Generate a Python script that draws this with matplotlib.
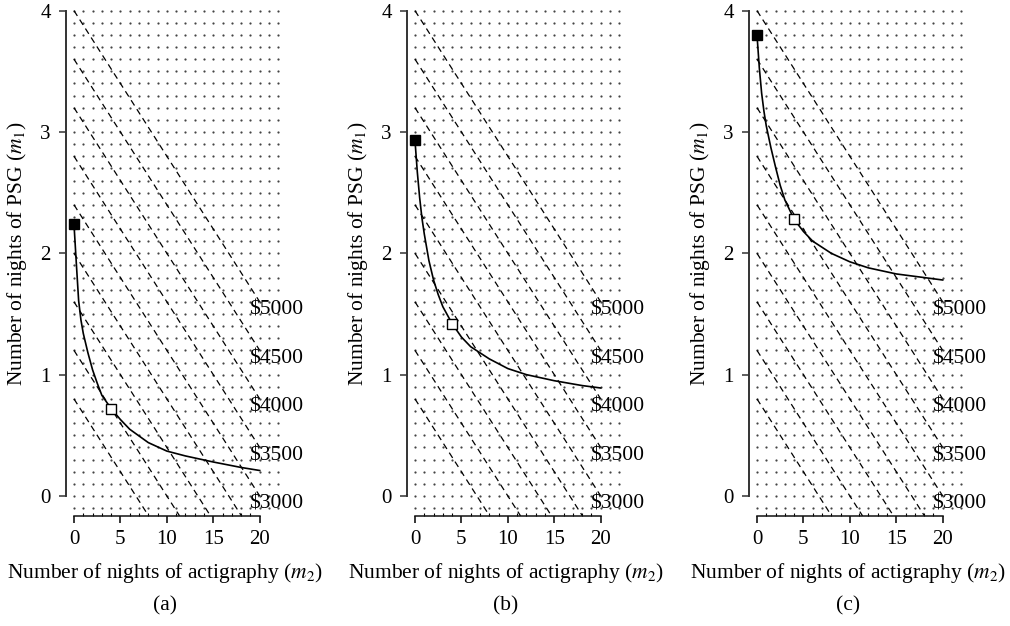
import numpy as np
import matplotlib
matplotlib.use("Agg")
import matplotlib.pyplot as plt

plt.rcParams['font.family'] = ['Liberation Serif', 'DejaVu Serif']
plt.rcParams['mathtext.fontset'] = 'stix'

# nights of actigraphy (m2) where the curves were read
m2 = [0, 0.25, 0.5, 0.75, 1, 1.5, 2, 2.5, 3, 4, 5, 6, 8, 10, 12, 15, 18, 20]
# nights of PSG (m1) on each curve
m1_a = [2.24, 1.92, 1.61, 1.45, 1.34, 1.18, 1.04, 0.93, 0.83, 0.72, 0.63, 0.55, 0.44, 0.37, 0.33, 0.28, 0.235, 0.21]
m1_b = [2.93, 2.67, 2.46, 2.29, 2.16, 1.94, 1.78, 1.66, 1.56, 1.42, 1.31, 1.23, 1.13, 1.05, 1.00, 0.95, 0.91, 0.89]
m1_c = [3.80, 3.53, 3.32, 3.17, 3.05, 2.87, 2.71, 2.56, 2.44, 2.28, 2.18, 2.10, 2.00, 1.93, 1.88, 1.83, 1.80, 1.78]
curves = [m1_a, m1_b, m1_c]
panel_names = ['(a)', '(b)', '(c)']

# chosen design: m2 = 4 nights
chosen_m2 = 4
chosen_m1 = [0.72, 1.42, 2.28]

# budget isolines
psg_cost = 1250
acti_cost = 150
budgets = [1000, 1500, 2000, 2500, 3000, 3500, 4000, 4500, 5000]
labeled = [3000, 3500, 4000, 4500, 5000]

ymin = -0.165
fs = 15.5
fig = plt.figure(figsize=(10.1, 6.26), dpi=100)
lefts = [66, 407, 749]

for i in range(3):
    ax = fig.add_axes([lefts[i] / 1010, 110 / 626, 216 / 1010, 509 / 626])
    ax.set_xlim(-0.86, 22.4)
    ax.set_ylim(ymin, 4.03)

    # dot grid
    gx, gy = np.meshgrid(np.arange(0, 23, 1), 4.0 - 0.1 * np.arange(0, 42))
    ax.plot(gx.ravel(), gy.ravel(), ls='none', marker='o', ms=1.6, mew=0,
            color='#444444', zorder=1)

    # budget lines
    for b in budgets:
        x_end = min(20, (b / psg_cost - ymin) / (acti_cost / psg_cost))
        xs = np.array([0, x_end])
        ys = (b - acti_cost * xs) / psg_cost
        ax.plot(xs, ys, color='black', lw=0.9, dashes=(5, 3.5), zorder=2)
        if b in labeled:
            ax.text(18.9, (b - acti_cost * 20) / psg_cost - 0.07, r'\$%d' % b,
                    fontsize=fs, va='center', ha='left', zorder=3)

    ax.plot(m2, curves[i], color='black', lw=1.2, zorder=4)
    ax.plot([m2[0]], [curves[i][0]], marker='s', ms=6.5, color='black',
            ls='none', zorder=5)
    ax.plot([chosen_m2], [chosen_m1[i]], marker='s', ms=6.5, mfc='white',
            mec='black', mew=1.0, ls='none', zorder=5)

    for s in ['top', 'right']:
        ax.spines[s].set_visible(False)
    ax.spines['left'].set_bounds(0, 4)
    ax.spines['bottom'].set_bounds(0, 20)
    ax.spines['left'].set_color('#333333')
    ax.spines['bottom'].set_color('#111111')
    ax.spines['left'].set_linewidth(1.4)
    ax.spines['bottom'].set_linewidth(1.1)

    ax.set_yticks([0, 1, 2, 3, 4])
    ax.set_xticks([0, 5, 10, 15, 20])
    ax.set_xticks(np.arange(0, 21, 1), minor=True)
    ax.tick_params(axis='y', direction='out', length=5, width=1.1, pad=6,
                   labelsize=15, color='#333333')
    ax.tick_params(axis='x', which='major', direction='out', length=5,
                   width=1.1, pad=5, labelsize=15)
    ax.tick_params(axis='x', which='minor', direction='in', length=2.5,
                   width=0.8)

    ax.set_ylabel(r'Number of nights of PSG ($m_1$)', fontsize=fs)
    ax.yaxis.set_label_coords(-0.17, 0.516)
    ax.set_xlabel(r'Number of nights of actigraphy ($m_2$)', fontsize=fs)
    ax.xaxis.set_label_coords(0.458, -0.088)

    fig.text((lefts[i] + 99) / 1010, 1 - 606 / 626, panel_names[i],
             fontsize=fs, ha='center', va='center')

fig.savefig('out.png', dpi=100)
